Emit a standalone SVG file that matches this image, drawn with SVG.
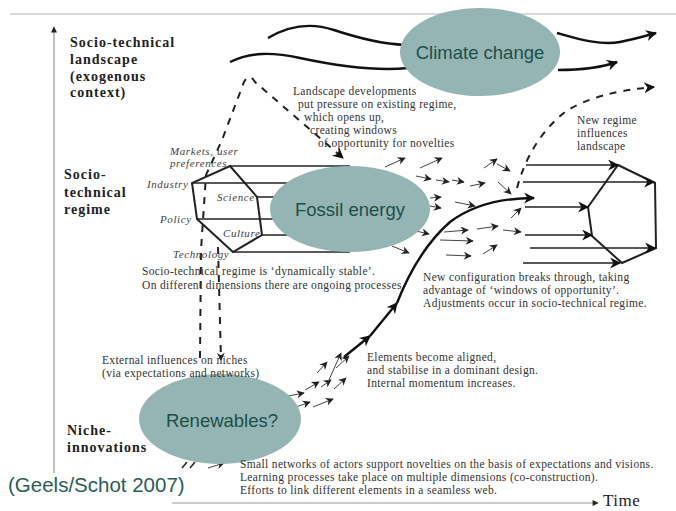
<svg xmlns="http://www.w3.org/2000/svg" width="676" height="511" viewBox="0 0 676 511">
<defs>
<marker id="ah" viewBox="0 0 10 10" refX="9" refY="5" markerWidth="14" markerHeight="11" markerUnits="userSpaceOnUse" orient="auto"><path d="M0,0 L10,5 L0,10 L3,5 z" fill="#111"/></marker>
<marker id="sm" viewBox="0 0 10 10" refX="9" refY="5" markerWidth="10" markerHeight="8" markerUnits="userSpaceOnUse" orient="auto"><path d="M0,0 L10,5 L0,10 L3,5 z" fill="#222"/></marker>
<marker id="ax" viewBox="0 0 10 10" refX="9" refY="5" markerWidth="8" markerHeight="6" markerUnits="userSpaceOnUse" orient="auto"><path d="M0,0 L10,5 L0,10 z" fill="#222"/></marker>
<style>
.ell{fill:#94b5b3}
.elt{font-size:18.5px;fill:#1d4f49;text-anchor:middle}
.lvl{font-size:14px;font-weight:bold;fill:#222;letter-spacing:1px}
.ann{font-size:11.5px;fill:#333;letter-spacing:0.35px}
.it{font-size:11px;font-style:italic;fill:#444;letter-spacing:0.6px}
.ln{fill:none;stroke:#222;stroke-width:1.6}
.hx{fill:none;stroke:#222;stroke-width:2}
.th{fill:none;stroke:#111;stroke-width:2.4}
.ds{fill:none;stroke:#222;stroke-width:2;stroke-dasharray:7 7}
.sa{fill:none;stroke:#444;stroke-width:1;marker-end:url(#sm)}
.ax{fill:none;stroke:#999;stroke-width:1.2;marker-end:url(#ax)}
</style>
</defs>
<rect width="676" height="511" fill="#fff"/>
<line x1="10" y1="14" x2="676" y2="14" stroke="#ccc" stroke-width="1.5"/>

<g id="connectors">
<path class="ax" d="M54,473 L54,27"/>
<path class="ax" d="M172,503 L598,503"/>
<path class="th" d="M268,38 C288,26 310,22 334,30 S385,44 405,45"/>
<path class="th" d="M557,33 C575,38 600,46 620,42 C635,39 645,36 656,33" marker-end="url(#ah)"/>
<path class="th" d="M230,62 C250,52 272,52 300,58 S370,72 408,68"/>
<path class="th" d="M558,70 C580,70 600,68 617,62" marker-end="url(#ah)"/>
<path class="ds" d="M200,358 L201,250 L206,175 L222,140 L244,82 Q249,72 255,82 L343,158" marker-end="url(#ah)"/>
<path class="ds" d="M218,247 L221,360" stroke-width="1.6" marker-end="url(#sm)"/>
<path class="ds" d="M517,188 Q530,140 565,112 Q595,92 654,87" marker-end="url(#ah)"/>
<g class="ln">
<line x1="230" y1="166" x2="350" y2="166"/>
<line x1="192" y1="183" x2="350" y2="183"/>
<line x1="257" y1="197" x2="350" y2="197"/>
<line x1="197" y1="219" x2="350" y2="219"/>
<line x1="262" y1="235" x2="350" y2="235"/>
<line x1="233" y1="252" x2="350" y2="252"/>
</g>
<polygon class="hx" points="230,166 257,197 262,235 233,252 197,219 192,183"/>
<polygon class="hx" points="618,165 655,183 656,248 622,263 592,236 588,207"/>
<g class="ln" marker-end="url(#ah)">
<line x1="526" y1="165" x2="618" y2="165"/>
<line x1="523" y1="182" x2="654" y2="182"/>
<line x1="525" y1="207" x2="588" y2="207"/>
<line x1="525" y1="235" x2="592" y2="235"/>
<line x1="530" y1="248" x2="655" y2="248"/>
<line x1="523" y1="263" x2="620" y2="263"/>
</g>
<path class="sa" d="M385,167 L405,158"/>
<path class="sa" d="M420,168 L442,158"/>
<path class="sa" d="M416,176 L431,179"/>
<path class="sa" d="M436,180 L449,182"/>
<path class="sa" d="M452,180 L464,182"/>
<path class="sa" d="M470,186 L485,183"/>
<path class="sa" d="M484,168 L497,159"/>
<path class="sa" d="M497,164 L510,171"/>
<path class="sa" d="M498,182 L511,194"/>
<path class="sa" d="M430,198 L441,197"/>
<path class="sa" d="M430,206 L441,208"/>
<path class="sa" d="M455,202 L475,206"/>
<path class="sa" d="M511,218 L521,208"/>
<path class="sa" d="M416,231 L429,234"/>
<path class="sa" d="M444,232 L468,230"/>
<path class="sa" d="M477,229 L498,226"/>
<path class="sa" d="M503,230 L521,232"/>
<path class="sa" d="M440,240 L473,241"/>
<path class="sa" d="M446,255 L471,256"/>
<path class="sa" d="M483,254 L497,245"/>
<path class="sa" d="M392,246 L409,253"/>
<path class="sa" d="M288,396 L304,393"/>
<path class="sa" d="M296,407 L310,402"/>
<path class="sa" d="M305,390 L319,382"/>
<path class="sa" d="M313,407 L333,399"/>
<path class="sa" d="M321,387 L331,380"/>
<path class="sa" d="M317,373 L327,362"/>
<path class="sa" d="M328,382 L341,353"/>
<path class="sa" d="M334,389 L346,378"/>
<path class="sa" d="M336,368 L349,356"/>
<path d="M182,468 L187,462 M190,468 L195,462" stroke="#333" stroke-width="1.8"/>
<path class="sa" d="M208,468 L224,463"/>
<path class="th" d="M344,357 L370,336" marker-end="url(#ah)"/>
<path class="th" d="M370,336 L397,303" marker-end="url(#ah)"/>
<path class="th" d="M397,303 Q418,250 450,222 Q482,198 534,198" marker-end="url(#ah)"/>
</g>

<g font-family="Liberation Sans, sans-serif">
<g id="climate">
<ellipse class="ell" cx="480" cy="52" rx="80" ry="44"/>
<text class="elt" x="480" y="59">Climate change</text>
</g>
<g id="fossil">
<ellipse class="ell" cx="350" cy="209" rx="80" ry="43"/>
<text class="elt" x="350" y="216">Fossil energy</text>
</g>
<g id="renewables">
<ellipse class="ell" cx="220" cy="419" rx="81" ry="45"/>
<text class="elt" x="222" y="427">Renewables?</text>
</g>
<text id="citation" x="8" y="492" font-size="20.5" fill="#2b5e57">(Geels/Schot 2007)</text>
</g>

<g font-family="Liberation Serif, serif">
<g id="level-labels">
<text class="lvl" x="70" y="47">Socio-technical</text>
<text class="lvl" x="70" y="64">landscape</text>
<text class="lvl" x="70" y="81">(exogenous</text>
<text class="lvl" x="70" y="97">context)</text>
<text class="lvl" x="64" y="179">Socio-</text>
<text class="lvl" x="64" y="197">technical</text>
<text class="lvl" x="64" y="214">regime</text>
<text class="lvl" x="67" y="435">Niche-</text>
<text class="lvl" x="67" y="452">innovations</text>
<text x="603" y="506" font-size="17" fill="#222" letter-spacing="0.5">Time</text>
</g>

<g id="regime-dimensions">
<text class="it" x="170" y="155">Markets, user</text>
<text class="it" x="170" y="167">preferences</text>
<text class="it" x="147" y="188">Industry</text>
<text class="it" x="217" y="201">Science</text>
<text class="it" x="160" y="223">Policy</text>
<text class="it" x="223" y="237">Culture</text>
<text class="it" x="173" y="258">Technology</text>
</g>

<g id="annotations">
<text class="ann" x="293" y="95">Landscape  developments</text>
<text class="ann" x="298" y="108">put pressure on existing regime,</text>
<text class="ann" x="304" y="121">which opens up,</text>
<text class="ann" x="310" y="134">creating windows</text>
<text class="ann" x="318" y="147">of opportunity for novelties</text>
<text class="ann" x="577" y="124">New  regime</text>
<text class="ann" x="577" y="137">influences</text>
<text class="ann" x="577" y="150">landscape</text>
<text class="ann" x="142" y="275" letter-spacing="0.45">Socio-technical regime  is ‘dynamically stable’.</text>
<text class="ann" x="142" y="289">On different dimensions there are ongoing processes</text>
<text class="ann" x="423" y="281">New configuration breaks through, taking</text>
<text class="ann" x="423" y="294">advantage of ‘windows of opportunity’.</text>
<text class="ann" x="423" y="307">Adjustments occur in socio-technical regime.</text>
<text class="ann" x="102" y="364" letter-spacing="0.6">External influences on niches</text>
<text class="ann" x="102" y="377" letter-spacing="0.6">(via expectations and networks)</text>
<text class="ann" x="367" y="361">Elements become aligned,</text>
<text class="ann" x="367" y="374">and stabilise in a dominant design.</text>
<text class="ann" x="367" y="387">Internal momentum increases.</text>
<text class="ann" x="240" y="468">Small networks of actors support novelties on the basis of expectations and visions.</text>
<text class="ann" x="240" y="481">Learning processes take place on multiple dimensions (co-construction).</text>
<text class="ann" x="240" y="494">Efforts to link different elements in a seamless web.</text>
</g>
</g>
</svg>
